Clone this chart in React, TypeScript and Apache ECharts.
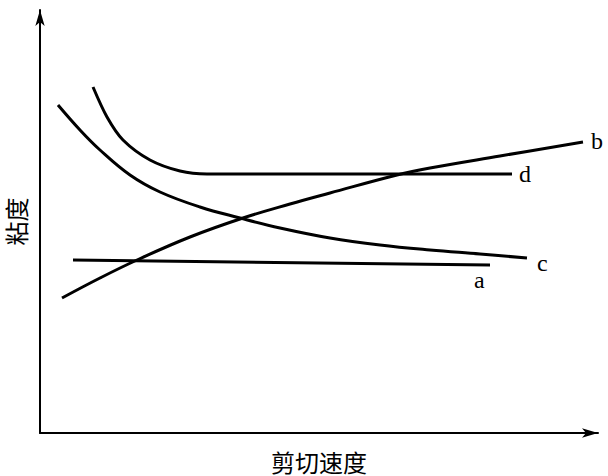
import React, { useEffect, useRef } from "react";
import * as echarts from "echarts";

// pixel-read values: x = shear rate, y = viscosity (arbitrary units)
const aX = [33, 450];
const aY = [173, 168];
const bX = [22, 60, 97, 150, 203, 250, 290, 357, 390, 460, 543];
const bY = [135, 155, 173, 196, 215, 229, 240, 258, 265, 277, 291];
const cX = [18, 40, 60, 90, 120, 160, 200, 240, 290, 340, 390, 440, 487];
const cY = [328, 303, 283, 258, 241, 226, 215, 205, 195, 188, 183, 179, 175];
const dX = [53, 67, 83, 110, 140, 167, 260, 360, 472];
const dY = [346, 316, 293, 273, 262, 259, 259, 259, 259];

const names = ["a", "b", "c", "d"];
const xName = "剪切速度";
const yName = "粘度";

const zip = (xs: number[], ys: number[]) => xs.map((x, i) => [x, ys[i]]);

export default function App() {
  const ref = useRef<HTMLDivElement>(null);
  useEffect(() => {
    if (!ref.current) return;
    const chart = echarts.init(ref.current, null, { renderer: "svg" });
    const labelStyle = {
      show: true,
      formatter: "{a}",
      fontFamily: "Liberation Serif",
      fontSize: 24,
      color: "#000",
      distance: 0,
    };
    const lineCommon = {
      type: "line" as const,
      showSymbol: false,
      symbol: "none",
      lineStyle: { color: "#000", width: 3 },
      itemStyle: { color: "#000" },
    };
    chart.setOption({
      animation: false,
      backgroundColor: "#fff",
      grid: {
        left: 40,
        right: 10,
        top: 10,
        bottom: 43,
        containLabel: false,
        outerBoundsMode: "none",
      },
      xAxis: {
        type: "value",
        min: 0,
        max: 558,
        name: xName,
        nameLocation: "middle",
        nameGap: 15,
        nameTextStyle: {
          fontSize: 24,
          lineHeight: 26,
          color: "#000",
          fontFamily: "Noto Sans CJK SC",
        },
        axisLine: {
          show: true,
          lineStyle: { color: "#000", width: 2 },
          symbol: ["none", "arrow"],
          symbolSize: [7, 16],
        },
        axisTick: { show: false },
        axisLabel: { show: false },
        splitLine: { show: false },
      },
      yAxis: {
        type: "value",
        min: 0,
        max: 423,
        name: yName,
        nameLocation: "middle",
        nameRotate: 90,
        nameGap: 12,
        nameTextStyle: {
          fontSize: 24,
          lineHeight: 26,
          color: "#000",
          fontFamily: "Noto Sans CJK SC",
        },
        axisLine: {
          show: true,
          lineStyle: { color: "#000", width: 2 },
          symbol: ["none", "arrow"],
          symbolSize: [7, 16],
        },
        axisTick: { show: false },
        axisLabel: { show: false },
        splitLine: { show: false },
      },
      series: [
        {
          ...lineCommon,
          name: names[0],
          data: zip(aX, aY),
          endLabel: { ...labelStyle, offset: [-16, 15] },
        },
        {
          ...lineCommon,
          name: names[1],
          smooth: 0.4,
          data: zip(bX, bY),
          endLabel: { ...labelStyle, offset: [8, -1] },
        },
        {
          ...lineCommon,
          name: names[2],
          smooth: 0.4,
          data: zip(cX, cY),
          endLabel: { ...labelStyle, offset: [10, 5] },
        },
        {
          ...lineCommon,
          name: names[3],
          smooth: 0.3,
          data: zip(dX, dY),
          endLabel: { ...labelStyle, offset: [7, 0] },
        },
      ],
    });
    return () => chart.dispose();
  }, []);
  return (
    <div
      ref={ref}
      style={{ width: 608, height: 476, position: "fixed", left: 0, top: 0 }}
    />
  );
}
